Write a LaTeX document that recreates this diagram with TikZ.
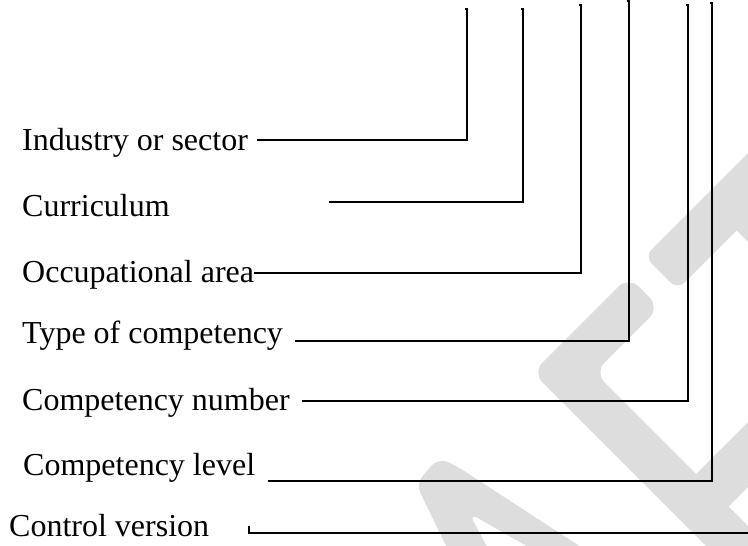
\documentclass[tikz,border=0pt]{standalone}
\usepackage{fontspec}
\setmainfont{Liberation Serif}
\definecolor{wm}{RGB}{221,221,221}
\begin{document}
\begin{tikzpicture}[x=1pt,y=-1pt,
  conn/.style={line width=1.8pt, line join=miter},
  lbl/.style={anchor=base west, inner sep=0pt, font=\fontsize{32}{38}\selectfont},
  wmshape/.style={fill=wm, draw=none, rounded corners=#1}]
\useasboundingbox (0,0) rectangle (748,546);
% watermark
\begin{scope}
\clip (0,0) rectangle (748,546);
% upper right band
\fill[wmshape=10pt] (644.5,256.5) -- (800,101) -- (830,137) -- (677.5,289.5) -- cycle;
\fill[wm] (725,220) -- (738,232) -- (820,314) -- (860,270) -- (760,170) -- cycle;
% chevron
\fill[wmshape=14pt] (628.5,276.5) -- (532.5,372.5) -- (760,600) -- (822,600)
   -- (594.5,372.5) -- (659.5,307.5) -- cycle;
% branch of chevron
\fill[wm] (680,490) -- (800,370) -- (800,435) -- (700,535) -- cycle;
% lower left shape
\fill[wmshape=10pt] (416,484) -- (438,458) -- (455,465) -- (601,560) -- (551,560)
   -- (469,513) -- (494,560) -- (453,560) -- cycle;
\end{scope}
% labels
\node[lbl] (n1) at (22,150) {Industry or sector};
\node[lbl] (n2) at (22,216) {Curriculum};
\node[lbl] (n3) at (22,282) {Occupational area};
\node[lbl] (n4) at (22,343) {Type of competency};
\node[lbl] (n5) at (22,410) {Competency number};
\node[lbl] (n6) at (23,475) {Competency level};
\node[lbl] (n7) at (9,536) {Control version};
% connector ends
\coordinate (s1) at (257,140); \coordinate (t1) at (467,9);
\coordinate (s2) at (329,202); \coordinate (t2) at (523,9);
\coordinate (s3) at (254,273); \coordinate (t3) at (581,5);
\coordinate (s4) at (295,341); \coordinate (t4) at (629,1);
\coordinate (s5) at (302,401); \coordinate (t5) at (688,5);
\coordinate (s6) at (268,481); \coordinate (t6) at (712,3);
\coordinate (s7) at (249,526); \coordinate (e7) at (748,533);
% connectors
\draw[conn] (s1) -| (t1) -- ++(-2.5,0);
\draw[conn] (s2) -| (t2) -- ++(-2.5,0);
\draw[conn] (s3) -| (t3) -- ++(-2.5,0);
\draw[conn] (s4) -| (t4) -- ++(-2.5,0);
\draw[conn] (s5) -| (t5) -- ++(-2.5,0);
\draw[conn] (s6) -| (t6) -- ++(-2.5,0);
\draw[conn] (s7) |- (e7);
\end{tikzpicture}
\end{document}
